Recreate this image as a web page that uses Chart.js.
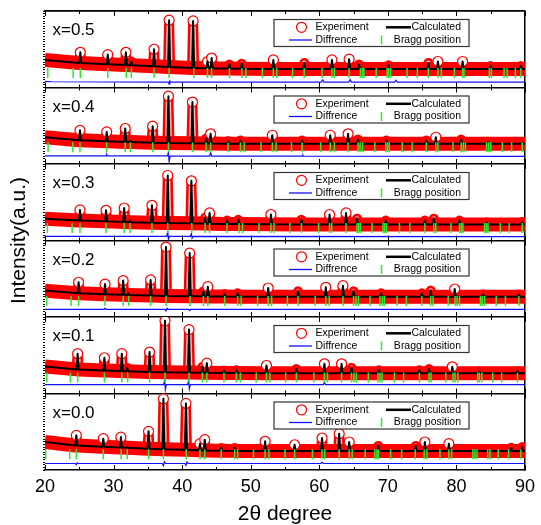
<!DOCTYPE html>
<html>
<head>
<meta charset="utf-8">
<script src="https://cdn.jsdelivr.net/npm/chart.js@4.4.1/dist/chart.umd.min.js"></script>
<style>
  body { margin: 0; background: #fff; }
  canvas { display: block; }
</style>
</head>
<body>
<canvas id="xrdChart" width="541" height="525"></canvas>
<script>
const PANEL_LABELS = ['x=0.0', 'x=0.1', 'x=0.2', 'x=0.3', 'x=0.4', 'x=0.5'];
const LEGEND_TEXT = ['Experiment', 'Calculated', 'Diffrence', 'Bragg position'];
const X_TICK_LABELS = [20, 30, 40, 50, 60, 70, 80, 90];

// peak positions (2theta), peak tops and background under each peak, per panel
const pos00 = [24.57, 28.5, 31.07, 32.0, 35.1, 37.27, 40.55, 42.6, 43.3, 45.7, 47.66, 52.1, 56.4, 60.4, 62.9, 64.36, 68.6, 74.07, 75.4, 78.9, 88.0, 89.6];
const top00 = [45.3, 41, 43, 30, 50.5, 93, 87, 34.4, 39.6, 28.8, 28.8, 37.5, 33, 41.8, 47.5, 36.6, 31.4, 31.4, 36.6, 34.4, 29, 30];
const base00 = [32, 30.5, 29.3, 29, 27.8, 27.2, 26.5, 25.8, 25.6, 25.2, 25, 24.8, 24.8, 24.8, 24.8, 24.8, 24.8, 24.8, 24.8, 24.8, 24.8, 24.8];

const pos01 = [24.76, 28.66, 31.2, 31.98, 35.25, 37.5, 41.0, 42.95, 43.6, 46.1, 47.9, 52.3, 56.65, 60.75, 63.25, 64.7, 68.7, 74.6, 76.0, 79.4, 83.35, 88.9];
const top01 = [52, 46.7, 52, 33.5, 54.2, 95, 83.5, 34.9, 39.7, 30, 30.5, 36.6, 32, 38.8, 38.8, 33.5, 30.5, 30.5, 32, 34.9, 29, 29];
const base01 = [31.5, 30, 29.3, 29, 28.2, 27.8, 27.3, 27, 27, 26.8, 26.7, 26.5, 26.5, 26.5, 26.5, 26.5, 26.5, 26.5, 26.5, 26.5, 26.5, 26.5];

const pos02 = [24.9, 28.75, 31.4, 32.15, 35.4, 37.65, 41.1, 43.1, 43.75, 46.2, 48.1, 52.55, 56.9, 60.95, 63.45, 65.0, 69.0, 74.95, 76.25, 79.75, 83.85, 89.1];
const top02 = [45.4, 43, 47.6, 31, 48.4, 91.4, 83.5, 33.5, 39.7, 30, 31, 37.9, 33.5, 38.8, 41, 33.5, 31, 31, 34.5, 36.6, 29.5, 29.5];
const base02 = [31, 29.7, 29, 28.8, 28, 27.6, 27.2, 27, 26.9, 26.7, 26.6, 26.5, 26.5, 26.5, 26.5, 26.5, 26.5, 26.5, 26.5, 26.5, 26.5, 26.5];

const pos03 = [25.1, 28.9, 31.55, 32.4, 35.6, 37.9, 41.35, 43.35, 44.0, 46.55, 48.2, 52.95, 57.4, 61.5, 63.9, 65.5, 69.7, 75.4, 76.7, 80.45, 84.4, 89.6];
const top03 = [40, 39.5, 42.5, 26, 46, 85, 78, 30, 36, 26, 27, 34, 27, 34, 36, 28.5, 26, 26, 28.5, 26, 23.5, 24];
const base03 = [26, 25, 24.3, 24, 23.3, 23, 22.5, 22.2, 22, 21.7, 21.5, 21.2, 21, 21, 21, 21, 21, 21, 21, 21, 21, 21];

const pos04 = [25.1, 29.0, 31.7, 32.45, 35.7, 38.0, 41.5, 43.5, 44.15, 46.7, 48.5, 53.15, 57.5, 61.6, 64.2, 65.65, 69.8, 75.6, 77.0, 80.7, 84.55, 89.6];
const top04 = [44, 42, 46.4, 30.7, 49.4, 88.6, 81, 33.3, 39.5, 29.8, 30.7, 37.6, 30.7, 37.6, 39.5, 32, 30.7, 30.7, 35, 32, 29, 28];
const base04 = [31, 29.6, 28.9, 28.7, 27.9, 27.5, 27.1, 26.9, 26.8, 26.6, 26.5, 26.4, 26.4, 26.4, 26.4, 26.4, 26.4, 26.4, 26.4, 26.4, 26.4, 26.4];

const pos05 = [25.15, 29.15, 31.8, 32.6, 35.9, 38.1, 41.6, 43.7, 44.3, 46.9, 48.7, 53.3, 57.8, 61.85, 64.35, 65.8, 70.1, 75.9, 77.3, 80.9, 85.0, 89.4];
const top05 = [46, 43, 46, 34, 50, 88, 87, 34, 38.5, 30, 31, 36, 32, 36, 37, 30, 29, 32, 34, 34, 28, 28];
const base05 = [32, 30.5, 29.5, 29.2, 27.8, 26.8, 25.6, 25.2, 25, 24.7, 24.5, 24.3, 24.3, 24.3, 24.3, 24.3, 24.3, 24.3, 24.3, 24.3, 24.3, 24.3];

// background at 20 and 90 degrees
const baseStart = [36.6, 35.3, 34.5, 28.5, 35, 36];
const baseEnd = [24.8, 26.5, 26.5, 21, 26.4, 24.3];

// Bragg reflections
const bragg00 = [20.1, 23.6, 24.57, 28.5, 31.1, 32.0, 35.1, 37.27, 40.6, 42.6, 43.3, 45.7, 47.66, 48.1, 50.4, 52.1, 52.66, 55.0, 56.4, 59.0, 60.4, 60.8, 62.9, 64.36, 64.8, 66.7, 68.1, 68.4, 68.6, 70.4, 72.0, 74.0, 75.3, 75.7, 77.6, 78.9, 79.3, 82.4, 82.7, 83.0, 84.56, 84.9, 86.1, 87.6, 89.4];
const bragg01 = [20.25, 23.7, 24.76, 28.66, 31.2, 32.05, 35.25, 37.5, 41.0, 42.95, 43.6, 46.1, 47.9, 48.5, 50.8, 52.3, 52.8, 55.1, 56.65, 59.2, 60.75, 61.2, 63.25, 64.7, 65.05, 65.4, 67.15, 68.55, 68.85, 69.15, 70.95, 72.3, 74.6, 76.0, 76.3, 78.45, 79.5, 79.8, 80.2, 83.1, 83.35, 83.7, 85.3, 86.6, 88.9];
const bragg02 = [20.25, 23.8, 24.9, 28.75, 31.4, 32.2, 35.4, 37.65, 41.15, 43.1, 43.75, 46.2, 48.1, 48.6, 51.0, 52.55, 53.05, 55.35, 56.9, 59.4, 60.95, 61.45, 63.45, 65.0, 65.35, 65.7, 67.4, 68.85, 69.2, 69.5, 71.35, 72.7, 74.95, 76.25, 76.6, 78.8, 79.8, 80.1, 80.45, 83.5, 83.75, 84.1, 85.8, 87.15, 89.1];
const bragg03 = [20.35, 23.95, 25.1, 28.9, 31.55, 32.4, 35.6, 37.9, 41.4, 43.35, 44.0, 46.55, 48.3, 48.8, 51.2, 52.95, 53.4, 55.7, 57.4, 59.9, 61.5, 61.8, 63.9, 65.5, 65.75, 66.0, 67.7, 69.3, 69.55, 69.8, 71.7, 73.2, 75.4, 76.7, 77.0, 79.2, 80.45, 80.7, 80.95, 84.1, 84.35, 84.6, 86.4, 87.7, 89.6];
const bragg04 = [20.45, 24.05, 25.1, 29.0, 31.7, 32.45, 35.7, 38.0, 41.5, 43.5, 44.15, 46.7, 48.5, 49.05, 51.5, 53.15, 53.7, 55.95, 57.5, 60.2, 61.6, 62.2, 64.2, 65.65, 65.95, 66.3, 68.1, 69.7, 69.95, 70.2, 72.1, 73.55, 75.6, 77.0, 77.3, 79.5, 80.7, 81.0, 81.3, 84.4, 84.7, 85.0, 86.7, 88.05, 89.6];
const bragg05 = [20.4, 24.1, 25.15, 29.15, 31.85, 32.6, 35.9, 38.1, 41.7, 43.7, 44.3, 46.9, 48.7, 49.3, 51.7, 53.3, 53.8, 56.1, 57.8, 60.4, 61.85, 62.2, 64.35, 66.0, 66.3, 66.5, 68.3, 69.9, 70.1, 70.4, 72.8, 74.3, 75.9, 77.3, 77.8, 79.7, 80.9, 81.1, 84.8, 85.1, 86.95, 87.4, 88.6, 89.4];
const braggLevel = [20.5, 21, 21, 16.5, 22, 19];

// difference curve, [2theta, value]
const diff00 = [[20, 8.5], [24.4, 8.5], [24.57, 7], [24.7, 9.5], [24.9, 8.5], [37.1, 8.5], [37.27, 5.5], [37.4, 11], [37.6, 8.5], [40.4, 8.5], [40.55, 6], [40.7, 10.5], [40.9, 8.5], [60.2, 8.5], [60.4, 10], [60.6, 8.5], [90, 8.5]];
const diff01 = [[20, 11.6], [37.3, 11.6], [37.45, 18], [37.55, 5], [37.7, 11.6], [40.8, 11.6], [40.95, 17], [41.05, 6], [41.2, 11.6], [60.6, 11.6], [60.75, 14.5], [60.9, 11.6], [90, 11.6]];
const diff02 = [[20, 10], [28.6, 10], [28.75, 11.5], [28.9, 10], [37.5, 10], [37.65, 8], [37.8, 11.5], [38, 10], [40.95, 10], [41.1, 8.5], [41.25, 10], [90, 10]];
const diff03 = [[20, 5.5], [37.75, 5.5], [37.9, 12], [38.0, 1.5], [38.15, 5.5], [41.2, 5.5], [41.35, 9], [41.45, 3], [41.6, 5.5], [90, 5]];
const diff04 = [[20, 10.5], [28.9, 10.5], [29.0, 12.5], [29.1, 10.5], [37.85, 10.5], [38.0, 15], [38.1, 3], [38.25, 10.2], [44.0, 10.2], [44.15, 15], [44.3, 10.2], [57.5, 10.2], [57.6, 11.8], [57.7, 10.2], [90, 10]];
const diff05 = [[20, 8], [21, 7.5], [38.0, 7], [38.1, 4.5], [38.2, 8.5], [38.35, 7], [60.3, 7], [60.5, 10], [60.7, 7], [64.3, 7], [64.5, 10.5], [64.7, 7], [71, 7], [71.2, 9.5], [71.4, 7], [90, 7]];

const PEAK_POS = [pos00, pos01, pos02, pos03, pos04, pos05];
const PEAK_TOP = [top00, top01, top02, top03, top04, top05];
const PEAK_BASE = [base00, base01, base02, base03, base04, base05];
const BRAGG = [bragg00, bragg01, bragg02, bragg03, bragg04, bragg05];
const DIFF = [diff00, diff01, diff02, diff03, diff04, diff05];

const RED = '#ff0000';
const BLUE = '#1010ff';
const GREEN = '#2ee82e';
const FONT = '"Liberation Sans", Arial, sans-serif';
const PEAK_HALF_WIDTH = 0.15;

Chart.defaults.font.family = FONT;
Chart.defaults.color = '#000';

function profilePoints(k, withTops) {
  const pts = [{ x: 20, y: baseStart[k] }];
  PEAK_POS[k].forEach((p, i) => {
    pts.push({ x: p - PEAK_HALF_WIDTH, y: PEAK_BASE[k][i] });
    if (withTops) {
      pts.push({ x: p, y: PEAK_TOP[k][i] });
    }
    pts.push({ x: p + PEAK_HALF_WIDTH, y: PEAK_BASE[k][i] });
  });
  pts.push({ x: 90, y: baseEnd[k] });
  return pts;
}

let datasets = [];
PANEL_LABELS.forEach((label, k) => {
  const yId = 'p' + k;
  // observed points: red outline of the peak columns
  datasets.push({
    data: profilePoints(k, true),
    borderColor: RED, borderWidth: 10, pointRadius: 0,
    borderJoinStyle: 'round', borderCapStyle: 'butt',
    xAxisID: 'x', yAxisID: yId, order: 6, clip: 0,
  });
  // light core of the stacked open circles
  datasets.push({
    data: profilePoints(k, true),
    borderColor: 'rgba(255,255,255,0.7)', borderWidth: 5, pointRadius: 0,
    borderJoinStyle: 'round', borderCapStyle: 'butt',
    xAxisID: 'x', yAxisID: yId, order: 5, clip: 0,
  });
  // dense band of observed points along the background
  datasets.push({
    data: profilePoints(k, false),
    borderColor: RED, borderWidth: 14, pointRadius: 0,
    borderJoinStyle: 'round', borderCapStyle: 'butt',
    xAxisID: 'x', yAxisID: yId, order: 4, clip: 0,
  });
  datasets.push({
    data: PEAK_POS[k].map((p, i) => ({ x: p, y: PEAK_TOP[k][i] })),
    showLine: false, pointBorderWidth: 1.2,
    pointRadius: (ctx) => (PEAK_TOP[k][ctx.dataIndex] - PEAK_BASE[k][ctx.dataIndex] > 8 ? 5 : 0),
    pointBorderColor: RED, pointBackgroundColor: '#fff',
    xAxisID: 'x', yAxisID: yId, order: 3, clip: 0,
  });
  datasets.push({
    data: profilePoints(k, true),
    borderColor: '#000', borderWidth: 2, pointRadius: 0,
    borderJoinStyle: 'round',
    xAxisID: 'x', yAxisID: yId, order: 2, clip: 0,
  });
  datasets.push({
    data: BRAGG[k].map((p) => ({ x: p, y: braggLevel[k] })),
    showLine: false, pointStyle: 'line', pointRotation: 90, pointRadius: 5,
    pointBorderColor: GREEN, pointBorderWidth: 1.5,
    xAxisID: 'x', yAxisID: yId, order: 1, clip: 0,
  });
  datasets.push({
    data: DIFF[k].map(([x, y]) => ({ x, y })),
    borderColor: BLUE, borderWidth: 1.2, pointRadius: 0,
    xAxisID: 'x', yAxisID: yId, order: 1, clip: 0,
  });
});

let scales = {
  x: {
    type: 'linear', position: 'bottom', min: 20, max: 90,
    ticks: {
      stepSize: 5, autoSkip: false, maxRotation: 0, padding: 6,
      font: { size: 18 }, color: '#000',
      callback: (v) => (X_TICK_LABELS.includes(v) ? String(v) : ''),
    },
    grid: { display: false, drawTicks: false },
    border: { display: true, color: '#000', width: 1.5 },
    title: { display: true, text: '2θ degree', font: { size: 21, lineHeight: 1 }, padding: { top: 0, bottom: 0 } },
    afterFit: (s) => { s.height = 55; },
  },
  xt: {
    type: 'linear', position: 'top', min: 20, max: 90,
    ticks: { display: false },
    grid: { display: false, drawTicks: false },
    border: { display: true, color: '#000', width: 1.5 },
    afterFit: (s) => { s.height = 0; },
  },
};

PANEL_LABELS.forEach((label, k) => {
  scales['p' + k] = {
    type: 'linear', axis: 'y', position: 'left', stack: 'panels', stackWeight: 1,
    min: 0, max: 100,
    ticks: { display: false, stepSize: 50 },
    grid: {
      drawTicks: false, lineWidth: 1.5,
      color: (ctx) => (ctx.tick && ctx.tick.value === 100 ? '#000' : 'rgba(0,0,0,0)'),
    },
    border: { display: false },
    afterFit: (s) => { s.width = 0; },
  };
});

// full-height axis carrying the title; its dense tick marks give the dotted left frame
scales.yt = {
  type: 'linear', axis: 'y', position: 'left', min: 0, max: 180,
  ticks: { display: false, stepSize: 1 },
  grid: { drawOnChartArea: false, drawTicks: true, tickLength: 2, color: '#000', lineWidth: 1 },
  border: { display: false },
  title: { display: true, text: 'Intensity(a.u.)', font: { size: 21 }, padding: { top: 7, bottom: 0 } },
  afterFit: (s) => { s.width = 45; },
};

scales.yr = {
  type: 'linear', axis: 'y', position: 'right',
  ticks: { display: false },
  grid: { display: false, drawTicks: false },
  border: { display: true, color: '#000', width: 1.5 },
  afterFit: (s) => { s.width = 12; },
};

function drawLegend(ctx, left, top) {
  const r1 = top + 16.3;
  const r2 = top + 29;

  ctx.fillStyle = '#fff';
  ctx.fillRect(left + 229, top + 8.5, 195, 27);
  ctx.strokeStyle = '#333';
  ctx.lineWidth = 1.2;
  ctx.strokeRect(left + 229, top + 8.5, 195, 27);

  ctx.beginPath();
  ctx.arc(left + 256.5, r1, 5, 0, 2 * Math.PI);
  ctx.strokeStyle = RED;
  ctx.lineWidth = 1.2;
  ctx.stroke();

  ctx.beginPath();
  ctx.moveTo(left + 341, r1);
  ctx.lineTo(left + 366, r1);
  ctx.strokeStyle = '#000';
  ctx.lineWidth = 2.5;
  ctx.stroke();

  ctx.beginPath();
  ctx.moveTo(left + 244, r2);
  ctx.lineTo(left + 267, r2);
  ctx.strokeStyle = BLUE;
  ctx.lineWidth = 1.3;
  ctx.stroke();

  ctx.beginPath();
  ctx.moveTo(left + 336.5, r2 - 4.5);
  ctx.lineTo(left + 336.5, r2 + 4.5);
  ctx.strokeStyle = GREEN;
  ctx.lineWidth = 1.5;
  ctx.stroke();

  ctx.font = '10.5px ' + FONT;
  ctx.fillStyle = '#000';
  ctx.textBaseline = 'middle';
  ctx.textAlign = 'left';
  ctx.fillText(LEGEND_TEXT[0], left + 270.5, r1);
  ctx.fillText(LEGEND_TEXT[2], left + 270.5, r2);
  ctx.textAlign = 'right';
  ctx.fillText(LEGEND_TEXT[1], left + 416, r1);
  ctx.fillText(LEGEND_TEXT[3], left + 416, r2);
}

const panelDecor = {
  id: 'panelDecor',
  afterDraw(chart) {
    const { ctx, chartArea, scales: sc } = chart;
    const xs = sc.x;
    let edges = [chartArea.top];
    for (let k = PANEL_LABELS.length - 1; k >= 1; k--) {
      edges.push(sc['p' + k].bottom);
    }
    edges.push(chartArea.bottom);

    ctx.save();
    ctx.strokeStyle = '#000';
    ctx.lineWidth = 1;
    xs.ticks.forEach((t) => {
      const px = Math.round(xs.getPixelForValue(t.value)) + 0.5;
      const len = t.value % 10 === 0 ? 5 : 3;
      edges.forEach((ey, i) => {
        ctx.beginPath();
        if (i > 0) {
          ctx.moveTo(px, ey);
          ctx.lineTo(px, ey - len);
        }
        if (i < edges.length - 1) {
          ctx.moveTo(px, ey);
          ctx.lineTo(px, ey + len);
        }
        ctx.stroke();
      });
    });

    PANEL_LABELS.forEach((label, k) => {
      const top = sc['p' + k].top;
      drawLegend(ctx, chartArea.left, top);
      ctx.font = '17px ' + FONT;
      ctx.fillStyle = '#000';
      ctx.textAlign = 'left';
      ctx.textBaseline = 'middle';
      ctx.fillText(label, chartArea.left + 7.5, top + 19.5);
    });
    ctx.restore();
  },
};

const xrdChart = new Chart(document.getElementById('xrdChart').getContext('2d'), {
  type: 'line',
  data: { datasets },
  options: {
    responsive: false,
    animation: false,
    events: [],
    layout: { padding: { top: 11, right: 0, bottom: 0, left: 0 } },
    plugins: { legend: { display: false }, tooltip: { enabled: false } },
    scales,
  },
  plugins: [panelDecor],
});
</script>
</body>
</html>
